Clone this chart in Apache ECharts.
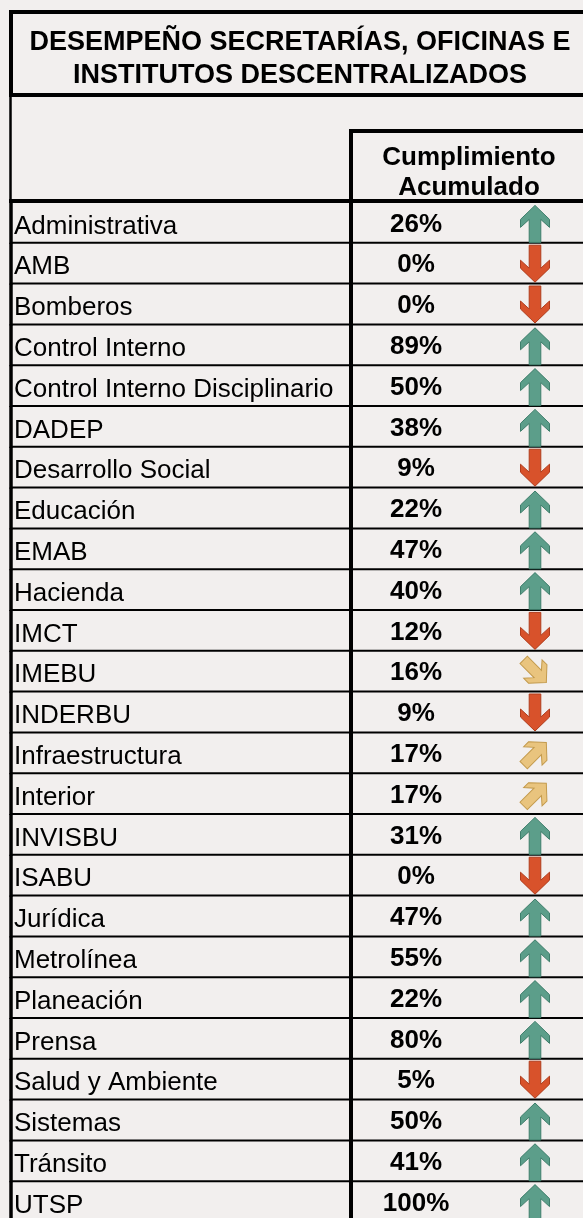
<!DOCTYPE html>
<html>
<head>
<meta charset="utf-8">
<script src="https://cdn.jsdelivr.net/npm/echarts@6/dist/echarts.min.js"></script>
<style>
  html, body { margin: 0; padding: 0; background: #F2EFEE; }
  #chart { width: 583px; height: 1218px; }
</style>
</head>
<body>
<div id="chart"></div>
<script>
// ---- data ----
const titleLines = ['DESEMPEÑO SECRETARÍAS, OFICINAS E', 'INSTITUTOS DESCENTRALIZADOS'];
const headerLines = ['Cumplimiento', 'Acumulado'];
const names = [
  'Administrativa', 'AMB', 'Bomberos', 'Control Interno', 'Control Interno Disciplinario',
  'DADEP', 'Desarrollo Social', 'Educación', 'EMAB', 'Hacienda', 'IMCT', 'IMEBU',
  'INDERBU', 'Infraestructura', 'Interior', 'INVISBU', 'ISABU', 'Jurídica', 'Metrolínea',
  'Planeación', 'Prensa', 'Salud y Ambiente', 'Sistemas', 'Tránsito', 'UTSP'
];
const values = [26, 0, 0, 89, 50, 38, 9, 22, 47, 40, 12, 16, 9, 17, 17, 31, 0, 47, 55, 22, 80, 5, 50, 41, 100];
const trends = [
  'up', 'down', 'down', 'up', 'up', 'up', 'down', 'up', 'up', 'up', 'down', 'downRight',
  'down', 'upRight', 'upRight', 'up', 'down', 'up', 'up', 'up', 'up', 'down', 'up', 'up', 'up'
];

// ---- styling / layout ----
const FONT = "'Liberation Sans', Arial, Helvetica, sans-serif";
const TABLE_W = 580;      // x-axis units (pixels of table width)
const COL_SPLIT = 341;    // boundary between name column and value column
const VALUE_X = 406;      // center of percent text
const ARROW_X = 525;      // center of arrow icon
const ARROW_PATH = 'M15 0 L30 14 L30 22 L21 14 L21 37 L9 37 L9 14 L0 22 L0 14 Z';
const arrowStyle = {
  up:        { fill: '#5C9E8A', stroke: '#3E7E6B', rot: 0,                w: 29, h: 37, dy: 1.5 },
  down:      { fill: '#D8522B', stroke: '#B03C1C', rot: Math.PI,          w: 29, h: 37, dy: 0.5 },
  upRight:   { fill: '#E9C47E', stroke: '#C39A4C', rot: -Math.PI / 4,     w: 26, h: 32, dy: 1 },
  downRight: { fill: '#E9C47E', stroke: '#C39A4C', rot: -3 * Math.PI / 4, w: 26, h: 32, dy: 0 }
};

const chart = echarts.init(document.getElementById('chart'), null, { renderer: 'canvas' });

const option = {
  backgroundColor: '#F2EFEE',
  animation: false,
  grid: { left: 10, top: 202, width: TABLE_W, height: 1020, outerBoundsMode: 'none', containLabel: false },
  xAxis: { type: 'value', min: 0, max: TABLE_W, show: false },
  yAxis: { type: 'category', data: names, inverse: true, show: false },
  graphic: [
    // title box
    { type: 'rect', shape: { x: 11, y: 12, width: 620, height: 83 }, style: { fill: 'none', stroke: '#000', lineWidth: 4 } },
    { type: 'text', style: { text: titleLines[0], x: 300, y: 43, align: 'center', verticalAlign: 'middle', fontFamily: FONT, fontWeight: 'bold', fontSize: 27, fill: '#000' } },
    { type: 'text', style: { text: titleLines[1], x: 300, y: 76, align: 'center', verticalAlign: 'middle', fontFamily: FONT, fontWeight: 'bold', fontSize: 27, fill: '#000' } },
    // left border between title and table
    { type: 'line', shape: { x1: 10.5, y1: 95, x2: 10.5, y2: 203 }, style: { stroke: '#000', lineWidth: 2.5 } },
    // header box
    { type: 'line', shape: { x1: 349, y1: 131, x2: 620, y2: 131 }, style: { stroke: '#000', lineWidth: 4 } },
    { type: 'line', shape: { x1: 351, y1: 129, x2: 351, y2: 203 }, style: { stroke: '#000', lineWidth: 4 } },
    { type: 'line', shape: { x1: 9, y1: 201, x2: 620, y2: 201 }, style: { stroke: '#000', lineWidth: 4 } },
    { type: 'text', style: { text: headerLines[0], x: 469, y: 158, align: 'center', verticalAlign: 'middle', fontFamily: FONT, fontWeight: 'bold', fontSize: 26, fill: '#000' } },
    { type: 'text', style: { text: headerLines[1], x: 469, y: 188, align: 'center', verticalAlign: 'middle', fontFamily: FONT, fontWeight: 'bold', fontSize: 26, fill: '#000' } }
  ],
  series: [{
    type: 'custom',
    data: values.map((v, i) => [v, i]),
    encode: { x: 0, y: 1 },
    renderItem: function (params, api) {
      const i = api.value(1);
      const p0 = api.coord([0, i]);
      const xL = p0[0], yc = p0[1];
      const h = api.size([0, 1])[1];
      const top = yc - h / 2, bot = yc + h / 2;
      const xSplit = api.coord([COL_SPLIT, i])[0];
      const xVal = api.coord([VALUE_X, i])[0];
      const xArr = api.coord([ARROW_X, i])[0];
      const xR = api.coord([TABLE_W, i])[0];
      const a = arrowStyle[trends[i]];
      const acy = yc + a.dy;
      return {
        type: 'group',
        children: [
          { type: 'line', shape: { x1: xL, y1: bot, x2: xR + 30, y2: bot }, style: { stroke: '#000', lineWidth: 2 } },
          { type: 'line', shape: { x1: xL + 1, y1: top, x2: xL + 1, y2: bot + 1 }, style: { stroke: '#000', lineWidth: 3.5 } },
          { type: 'line', shape: { x1: xSplit, y1: top, x2: xSplit, y2: bot + 1 }, style: { stroke: '#000', lineWidth: 4 } },
          { type: 'text', style: { text: names[i], x: xL + 4, y: yc + 4, align: 'left', verticalAlign: 'middle', fontFamily: FONT, fontSize: 26, fill: '#000' } },
          { type: 'text', style: { text: values[i] + '%', x: xVal, y: yc + 2, align: 'center', verticalAlign: 'middle', fontFamily: FONT, fontWeight: 'bold', fontSize: 26, fill: '#000' } },
          {
            type: 'path',
            shape: { pathData: ARROW_PATH, x: xArr - a.w / 2, y: acy - a.h / 2, width: a.w, height: a.h, layout: 'cover' },
            rotation: a.rot, originX: xArr, originY: acy,
            style: { fill: a.fill, stroke: a.stroke, lineWidth: 1 }
          }
        ]
      };
    }
  }]
};
chart.setOption(option);
</script>
</body>
</html>
